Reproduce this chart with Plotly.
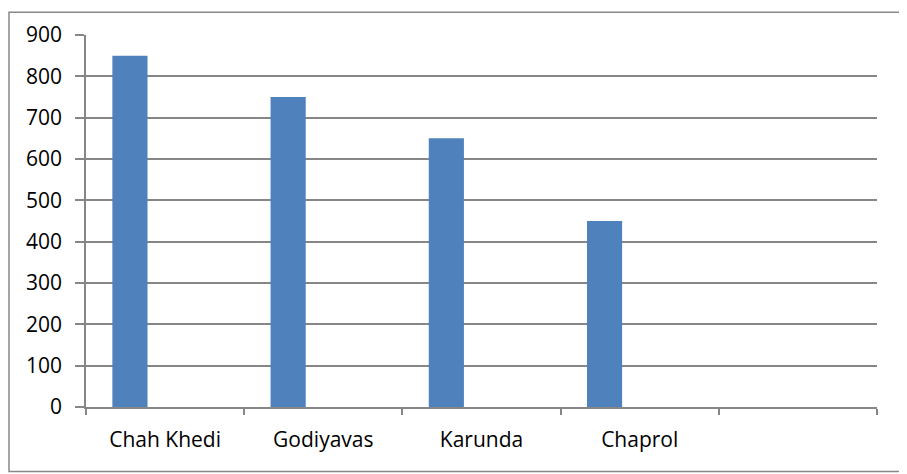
import plotly.graph_objects as go

categories = ["Chah Khedi", "Godiyavas", "Karunda", "Chaprol", ""]
values = [850, 750, 650, 450, None]
y_ticks = [0, 100, 200, 300, 400, 500, 600, 700, 800, 900]

xs = list(range(len(categories)))
grid = "#868686"
font = dict(family="Open Sans, sans-serif", size=21, color="#000000")

# The page body has an 8px default margin; the figure is sized/offset to compensate.
W, H = 899, 466
L, T, R, B = 78, 24, 30, 67
pw, ph = W - L - R, H - T - B

fig = go.Figure()
fig.add_trace(go.Bar(x=xs, y=values, marker=dict(color="#4F81BD", line=dict(width=0)), showlegend=False))
fig.add_trace(go.Bar(x=xs, y=[None]*len(xs), showlegend=False))
fig.add_trace(go.Bar(x=xs, y=[None]*len(xs), showlegend=False))

fig.update_layout(
    width=W, height=H,
    margin=dict(l=L, r=R, t=T, b=B, pad=0),
    paper_bgcolor="white", plot_bgcolor="white",
    barmode="group", bargap=1/3, bargroupgap=0,
    font=font,
    xaxis=dict(
        range=[-0.5, 4.5], tickvals=xs, ticktext=categories,
        ticks="", showgrid=False, zeroline=False,
        showline=True, linecolor=grid, linewidth=1.5,
        ticklabelstandoff=13,
        minor=dict(tick0=0.5, dtick=1, ticks="outside", ticklen=6, tickcolor=grid, tickwidth=1.5, showgrid=False),
        tickfont=font,
    ),
    yaxis=dict(
        range=[0, 900], tickvals=y_ticks, ticktext=[str(v) for v in y_ticks],
        showgrid=True, gridcolor=grid, gridwidth=1.5, zeroline=False,
        showline=True, linecolor=grid, linewidth=1.5,
        ticks="outside", ticklen=9, tickcolor=grid, tickwidth=1.5,
        ticklabelstandoff=9,
        tickfont=font,
    ),
    shapes=[dict(type="rect", xref="paper", yref="paper",
                 x0=(1 - L) / pw, x1=(897 - L) / pw,
                 y0=-(B - 2) / ph, y1=(ph + T - 1) / ph,
                 line=dict(color="#888888", width=1.5), fillcolor="rgba(0,0,0,0)", layer="below")],
)

fig.write_html("out.html")
